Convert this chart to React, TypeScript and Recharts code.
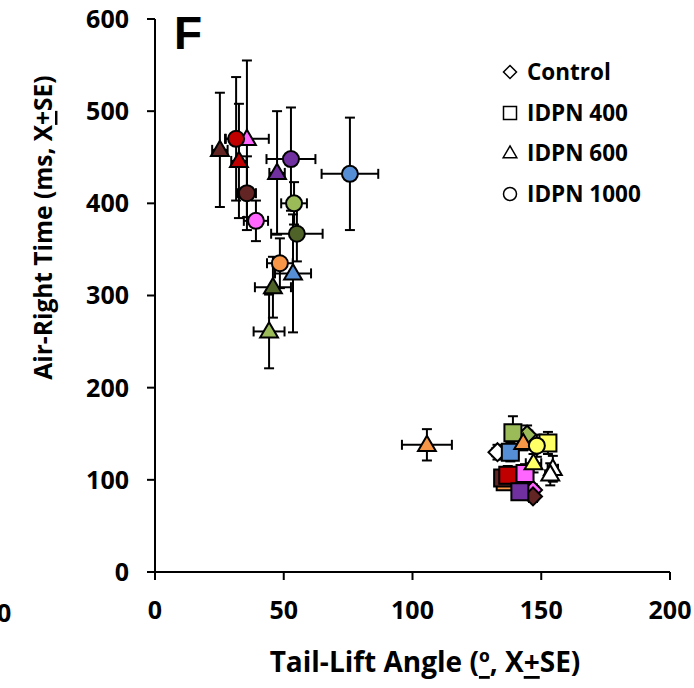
import React from 'react';
import {
  ScatterChart,
  Scatter,
  XAxis,
  YAxis,
  ErrorBar,
  Legend,
  Customized,
} from 'recharts';

// colour of each animal / time point
const C = {
  maroon: '#632523',
  red: '#C00000',
  pink: '#FF66FF',
  purple: '#7030A0',
  blue: '#558ED5',
  olive: '#4F6228',
  green: '#9BBB59',
  orange: '#F79646',
  yellow: '#FFFF66',
  white: '#FFFFFF',
};

// Control (diamonds)
const controlPts = [
  { x: 144.5, y: 149, ex: 2, ey: 10, color: C.green },
  { x: 133, y: 130, ex: 2, ey: 8, color: C.white },
  { x: 146.8, y: 89, ex: 2, ey: 6, color: C.pink },
  { x: 146.8, y: 82, ex: 2, ey: 6, color: C.maroon },
];

// IDPN 400 (squares)
const idpn400Pts = [
  { x: 139, y: 151, ex: 2, ey: 18, color: C.green },
  { x: 152.6, y: 140, ex: 2, ey: 12, color: C.yellow },
  { x: 138, y: 130, ex: 3, ey: 10, color: C.blue },
  { x: 136, y: 98, ex: 2, ey: 8, color: C.orange },
  { x: 135, y: 102, ex: 2, ey: 8, color: C.maroon },
  { x: 137, y: 105, ex: 2, ey: 10, color: C.red },
  { x: 143.7, y: 107, ex: 2, ey: 10, color: C.pink },
  { x: 141.7, y: 87, ex: 2, ey: 8, color: C.purple },
];

// IDPN 600 (triangles)
const idpn600Pts = [
  { x: 25.2, y: 458, ex: 3, ey: 62, color: C.maroon },
  { x: 35.7, y: 470, ex: 8.5, ey: 85, color: C.pink },
  { x: 32.6, y: 446, ex: 3, ey: 62, color: C.red },
  { x: 47.4, y: 433, ex: 3, ey: 67, color: C.purple },
  { x: 53.6, y: 324, ex: 7, ey: 64, color: C.blue },
  { x: 45.8, y: 309, ex: 7, ey: 33, color: C.olive },
  { x: 44.3, y: 261, ex: 6, ey: 40, color: C.green },
  { x: 105.6, y: 138, ex: 9.7, ey: 17, color: C.orange },
  { x: 143, y: 140, ex: 2, ey: 8, color: C.orange },
  { x: 154.5, y: 112, ex: 2, ey: 14, color: C.white },
  { x: 153.5, y: 106, ex: 2, ey: 12, color: C.white },
  { x: 147, y: 118, ex: 3, ey: 10, color: C.yellow },
];

// IDPN 1000 (circles)
const idpn1000Pts = [
  { x: 31.5, y: 470, ex: 4, ey: 67, color: C.red },
  { x: 35.7, y: 411, ex: 3.5, ey: 40, color: C.maroon },
  { x: 39.2, y: 381, ex: 4.7, ey: 22, color: C.pink },
  { x: 52.8, y: 448, ex: 9.5, ey: 56, color: C.purple },
  { x: 75.7, y: 432, ex: 11, ey: 61, color: C.blue },
  { x: 54, y: 400, ex: 5, ey: 23, color: C.green },
  { x: 55.1, y: 367, ex: 10, ey: 30, color: C.olive },
  { x: 48.5, y: 335, ex: 5, ey: 27, color: C.orange },
  { x: 148.3, y: 137, ex: 3, ey: 12, color: C.yellow },
];

const xTicks = [0, 50, 100, 150, 200];
const yTicks = [0, 100, 200, 300, 400, 500, 600];

const legendOrder = ['Control', 'IDPN 400', 'IDPN 600', 'IDPN 1000'];
const legendShapes: Record<string, string> = {
  Control: 'diamond',
  'IDPN 400': 'square',
  'IDPN 600': 'triangle',
  'IDPN 1000': 'circle',
};

const FONT = '"Open Sans", "DejaVu Sans", sans-serif';

function markerPath(kind: string, cx: number, cy: number, s: number) {
  if (kind === 'diamond') {
    return `M${cx},${cy - s}L${cx + s},${cy}L${cx},${cy + s}L${cx - s},${cy}Z`;
  }
  if (kind === 'square') {
    return `M${cx - s},${cy - s}H${cx + s}V${cy + s}H${cx - s}Z`;
  }
  if (kind === 'triangle') {
    const h = s * 1.8;
    return `M${cx},${cy - h * 0.6}L${cx + s * 1.05},${cy + h * 0.4}L${cx - s * 1.05},${cy + h * 0.4}Z`;
  }
  return '';
}

function Marker(props: any) {
  const { cx, cy, payload, kind } = props;
  if (cx == null || cy == null) return null;
  const fill = payload?.color ?? '#fff';
  if (kind === 'circle') {
    return <circle cx={cx} cy={cy} r={8} fill={fill} stroke="#000" strokeWidth={2} />;
  }
  const size = kind === 'diamond' ? 9 : 8.5;
  return <path d={markerPath(kind, cx, cy, size)} fill={fill} stroke="#000" strokeWidth={2} strokeLinejoin="miter" />;
}

function LegendBox(props: any) {
  const { payload = [] } = props;
  const items = [...payload].sort(
    (a: any, b: any) => legendOrder.indexOf(a.value) - legendOrder.indexOf(b.value)
  );
  return (
    <div style={{ fontFamily: FONT, fontWeight: 700, fontSize: 22.5, color: '#000' }}>
      {items.map((p: any) => {
        const kind = legendShapes[p.value];
        return (
          <div key={p.value} style={{ display: 'flex', alignItems: 'center', height: 40.5 }}>
            <svg width={26} height={22}>
              {kind === 'circle' ? (
                <circle cx={13} cy={11} r={6.5} fill="#fff" stroke="#000" strokeWidth={1.5} />
              ) : (
                <path d={markerPath(kind, 13, 11, 6.5)} fill="#fff" stroke="#000" strokeWidth={1.5} />
              )}
            </svg>
            <span style={{ marginLeft: 4, lineHeight: 1 }}>{p.value}</span>
          </div>
        );
      })}
    </div>
  );
}

function YTitle(props: any) {
  const { viewBox } = props;
  const x = 42;
  const y = viewBox ? viewBox.y + viewBox.height / 2 - 68 : 228;
  return (
    <text
      x={x}
      y={y}
      transform={`rotate(-90 ${x} ${y})`}
      textAnchor="middle"
      dominantBaseline="central"
      fontFamily={FONT}
      fontWeight={700}
      fontSize={24.5}
      fill="#000"
    >
      Air-Right Time (ms, X<tspan textDecoration="underline">+</tspan>SE)
    </text>
  );
}

function XTitle() {
  return (
    <text
      x={425}
      y={661}
      textAnchor="middle"
      dominantBaseline="central"
      fontFamily={FONT}
      fontWeight={700}
      fontSize={28}
      fill="#000"
    >
      Tail-Lift Angle (<tspan textDecoration="underline">º</tspan>, X<tspan textDecoration="underline">+</tspan>SE)
    </text>
  );
}

function Extras() {
  return (
    <g>
      <text x={174} y={33} dominantBaseline="central" fontFamily='"Liberation Sans", Arial, sans-serif' fontWeight={700} fontSize={46} fill="#000">
        F
      </text>
      <text x={-3} y={612} dominantBaseline="central" fontFamily={FONT} fontWeight={700} fontSize={25} fill="#000">
        0
      </text>
    </g>
  );
}

const tickStyle = { fontFamily: FONT, fontWeight: 700, fontSize: 25, fill: '#000' };

export default function App() {
  return (
    <div style={{ position: 'absolute', left: 0, top: 0, background: '#fff' }}>
      <ScatterChart width={694} height={688} margin={{ top: 19, right: 24, left: 0, bottom: 0 }}>
        <XAxis
          type="number"
          dataKey="x"
          domain={[0, 200]}
          ticks={xTicks}
          height={116}
          tickSize={8}
          tickMargin={21}
          tick={tickStyle}
          axisLine={{ stroke: '#000', strokeWidth: 2 }}
          tickLine={{ stroke: '#000', strokeWidth: 2 }}
          label={<XTitle />}
          allowDataOverflow
        />
        <YAxis
          type="number"
          dataKey="y"
          domain={[0, 600]}
          ticks={yTicks}
          width={155}
          tickSize={8}
          tickMargin={18}
          tick={tickStyle}
          axisLine={{ stroke: '#000', strokeWidth: 2 }}
          tickLine={{ stroke: '#000', strokeWidth: 2 }}
          label={<YTitle />}
        />
        <Legend
          layout="vertical"
          align="center"
          verticalAlign="middle"
          wrapperStyle={{ top: 52, left: 497, width: 190 }}
          content={<LegendBox />}
        />
        <Scatter name="Control" data={controlPts} isAnimationActive={false} shape={(p: any) => <Marker {...p} kind="diamond" />}>
          <ErrorBar dataKey="ex" direction="x" width={5} stroke="#000" strokeWidth={2} />
          <ErrorBar dataKey="ey" direction="y" width={5} stroke="#000" strokeWidth={2} />
        </Scatter>
        <Scatter name="IDPN 400" data={idpn400Pts} isAnimationActive={false} shape={(p: any) => <Marker {...p} kind="square" />}>
          <ErrorBar dataKey="ex" direction="x" width={5} stroke="#000" strokeWidth={2} />
          <ErrorBar dataKey="ey" direction="y" width={5} stroke="#000" strokeWidth={2} />
        </Scatter>
        <Scatter name="IDPN 600" data={idpn600Pts} isAnimationActive={false} shape={(p: any) => <Marker {...p} kind="triangle" />}>
          <ErrorBar dataKey="ex" direction="x" width={5} stroke="#000" strokeWidth={2} />
          <ErrorBar dataKey="ey" direction="y" width={5} stroke="#000" strokeWidth={2} />
        </Scatter>
        <Scatter name="IDPN 1000" data={idpn1000Pts} isAnimationActive={false} shape={(p: any) => <Marker {...p} kind="circle" />}>
          <ErrorBar dataKey="ex" direction="x" width={5} stroke="#000" strokeWidth={2} />
          <ErrorBar dataKey="ey" direction="y" width={5} stroke="#000" strokeWidth={2} />
        </Scatter>
        <Customized component={Extras} />
      </ScatterChart>
    </div>
  );
}
